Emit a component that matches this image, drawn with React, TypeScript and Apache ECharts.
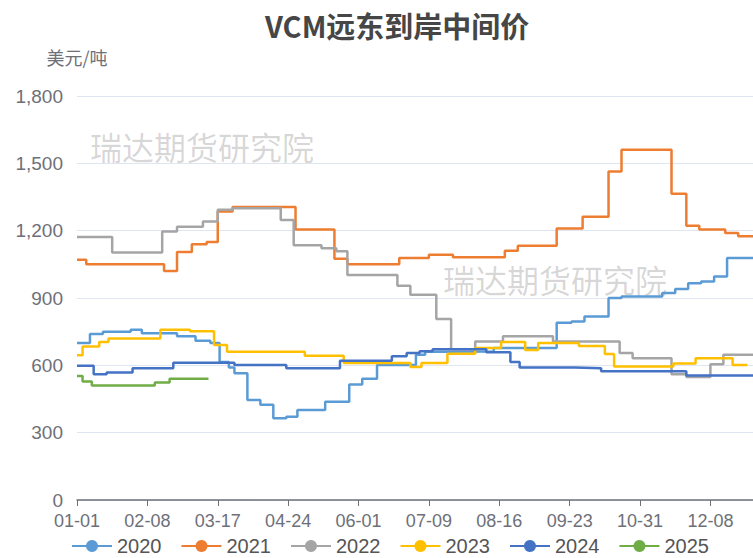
import React, { useEffect, useRef } from "react";
import * as echarts from "echarts";

// Day-of-year categories (leap-year calendar, MM-DD)
const categories: string[] = (() => {
  const out: string[] = [];
  const d = new Date(Date.UTC(2024, 0, 1));
  for (let i = 0; i < 366; i++) {
    const m = String(d.getUTCMonth() + 1).padStart(2, "0");
    const day = String(d.getUTCDate()).padStart(2, "0");
    out.push(`${m}-${day}`);
    d.setUTCDate(d.getUTCDate() + 1);
  }
  return out;
})();

const seriesNames = ["2020", "2021", "2022", "2023", "2024", "2025"];
const colors = ["#5B9BD5", "#ED7D31", "#A5A5A5", "#FFC000", "#4472C4", "#70AD47"];

// change points: [date, price]
const data2020: [string, number][] = [
  ["01-01", 700], ["01-08", 740], ["01-15", 750], ["01-30", 758], ["02-05", 743],
  ["02-24", 730], ["03-05", 710], ["03-13", 700], ["03-18", 615], ["03-23", 590],
  ["03-26", 565], ["04-02", 446], ["04-09", 424], ["04-16", 364], ["04-23", 371],
  ["04-29", 401], ["05-14", 438], ["05-27", 515], ["06-03", 540], ["06-11", 602],
  ["07-02", 647], ["07-07", 661], ["07-19", 662], ["08-13", 677], ["09-16", 790],
  ["09-24", 795], ["10-01", 818], ["10-14", 900], ["10-21", 907], ["11-12", 922],
  ["11-19", 940], ["11-26", 966], ["12-03", 974], ["12-10", 996], ["12-17", 1078],
  ["12-31", 1078],
];
const data2021: [string, number][] = [
  ["01-01", 1070], ["01-06", 1050], ["02-17", 1020], ["02-24", 1105], ["03-03", 1140],
  ["03-11", 1150], ["03-17", 1285], ["03-25", 1305], ["04-28", 1205], ["05-19", 1075],
  ["05-26", 1050], ["06-23", 1078], ["07-09", 1093], ["07-22", 1082], ["08-19", 1110],
  ["08-26", 1133], ["09-16", 1210], ["09-30", 1262], ["10-14", 1464], ["10-21", 1560],
  ["11-17", 1365], ["11-25", 1222], ["12-02", 1205], ["12-16", 1190], ["12-23", 1175],
  ["12-31", 1175],
];
const data2022: [string, number][] = [
  ["01-01", 1172], ["01-20", 1103], ["02-16", 1196], ["02-24", 1217], ["03-09", 1241],
  ["03-17", 1293], ["03-25", 1300], ["04-20", 1248], ["04-27", 1135], ["05-12", 1122],
  ["05-20", 1108], ["05-26", 1003], ["06-22", 955], ["06-29", 915], ["07-13", 806],
  ["07-21", 672], ["08-03", 706], ["08-18", 730], ["09-14", 706], ["10-20", 655],
  ["10-27", 632], ["11-17", 560], ["11-25", 548], ["12-08", 605], ["12-15", 647],
  ["12-31", 647],
];
const data2023: [string, number][] = [
  ["01-01", 645], ["01-04", 684], ["01-13", 704], ["01-18", 720], ["02-15", 758],
  ["03-02", 752], ["03-15", 691], ["03-22", 661], ["05-03", 643], ["05-24", 610],
  ["06-29", 593], ["07-05", 610], ["07-19", 652], ["08-03", 677], ["08-17", 704],
  ["08-30", 668], ["09-06", 700], ["09-28", 686], ["10-12", 650], ["10-17", 595],
  ["11-18", 608], ["11-30", 632], ["12-20", 602], ["12-28", 602],
];
const data2024: [string, number][] = [
  ["01-01", 598], ["01-10", 560], ["01-17", 568], ["01-31", 587], ["02-22", 612],
  ["03-26", 602], ["04-23", 587], ["05-22", 620], ["06-19", 640], ["06-27", 655],
  ["07-04", 663], ["07-11", 672], ["08-09", 658], ["08-22", 615], ["08-27", 590],
  ["09-26", 587], ["10-10", 574], ["11-25", 555], ["12-31", 555],
];
const data2025: [string, number][] = [
  ["01-01", 552], ["01-04", 528], ["01-09", 510], ["02-12", 523], ["02-20", 540],
  ["03-12", 540],
];
const allData = [data2020, data2021, data2022, data2023, data2024, data2025];

const yTicks = [0, 300, 600, 900, 1200, 1500, 1800];
const FONT = "'Noto Sans CJK SC', 'Noto Sans', sans-serif";
const NUMFONT = "'Liberation Sans', Arial, sans-serif";

export default function App() {
  const ref = useRef<HTMLDivElement>(null);
  useEffect(() => {
    if (!ref.current) return;
    const chart = echarts.init(ref.current, undefined, { renderer: "svg" });
    chart.setOption({
      animation: false,
      textStyle: { fontFamily: FONT },
      color: colors,
      title: {
        text: "VCM远东到岸中间价",
        left: 260,
        top: 5,
        textStyle: { fontSize: 29, fontWeight: "bold", color: "#464646", fontFamily: FONT },
      },
      graphic: [
        {
          type: "text",
          left: 90,
          top: 130,
          silent: true,
          z: 0,
          style: { text: "瑞达期货研究院", fontSize: 32, fill: "rgba(0,0,0,0.17)", fontFamily: FONT },
        },
        {
          type: "text",
          left: 443,
          top: 263,
          silent: true,
          z: 0,
          style: { text: "瑞达期货研究院", fontSize: 32, fill: "rgba(0,0,0,0.17)", fontFamily: FONT },
        },
      ],
      legend: {
        data: seriesNames,
        left: 66,
        top: 531,
        itemWidth: 40,
        itemHeight: 15,
        itemGap: 19,
        textStyle: { fontSize: 20, color: "#555", fontFamily: NUMFONT },
      },
      grid: { left: 77, right: -1, top: 96, bottom: 58, containLabel: false },
      xAxis: {
        type: "category",
        data: categories,
        boundaryGap: false,
        axisLine: { lineStyle: { color: "#6E7079", width: 1.5 } },
        axisTick: { interval: 37, alignWithLabel: true, length: 6, lineStyle: { color: "#6E7079" } },
        axisLabel: { interval: 37, fontSize: 18, color: "#6E7079", margin: 12, fontFamily: NUMFONT },
      },
      yAxis: {
        type: "value",
        min: yTicks[0],
        max: yTicks[yTicks.length - 1],
        interval: 300,
        name: "美元/吨",
        nameGap: 30,
        nameTextStyle: { fontSize: 18, color: "#6E7079", align: "center", fontFamily: FONT },
        axisLabel: {
          fontSize: 19,
          color: "#6E7079",
          margin: 14,
          fontFamily: NUMFONT,
          formatter: (v: number) => v.toLocaleString("en-US"),
        },
        splitLine: { lineStyle: { color: "#E0E6F1" } },
      },
      series: seriesNames.map((name, i) => ({
        name,
        type: "line",
        step: "end",
        data: allData[i],
        symbol: "circle",
        showSymbol: false,
        lineStyle: { width: 2.5, color: colors[i] },
        itemStyle: { color: colors[i] },
        z: 2,
      })),
    });
    return () => chart.dispose();
  }, []);
  return (
    <div
      ref={ref}
      style={{ position: "absolute", left: 0, top: 0, width: 753, height: 558 }}
    />
  );
}
